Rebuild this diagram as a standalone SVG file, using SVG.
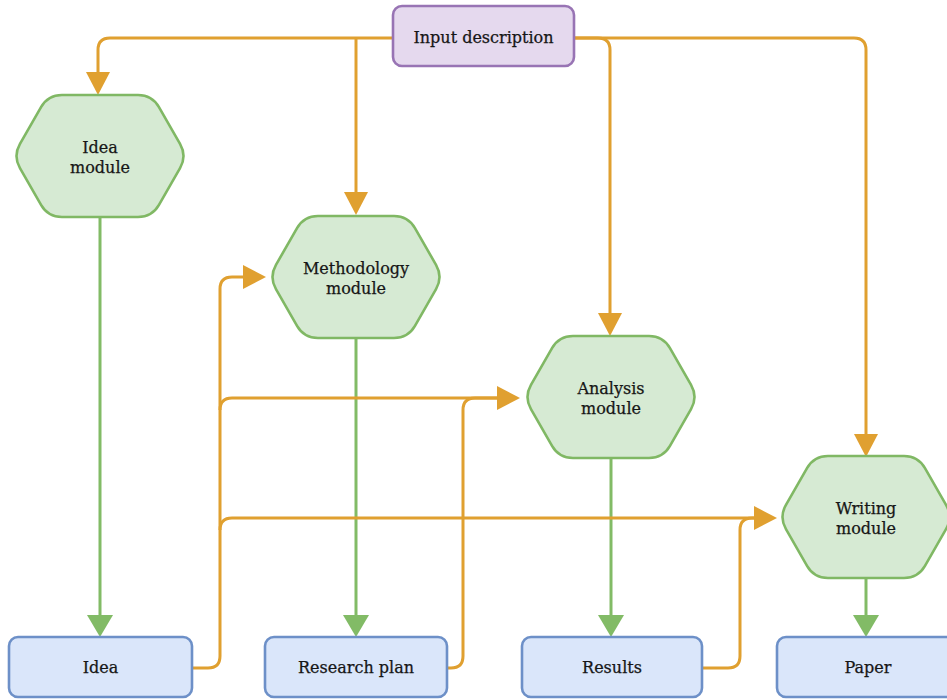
<svg xmlns="http://www.w3.org/2000/svg" width="947" height="700" viewBox="0 0 947 700">
  <style>
    .lbl { font-family: "DejaVu Serif", "Liberation Serif", serif; font-size: 16px; fill: #161616; stroke: #161616; stroke-width: 0.25; text-anchor: middle; }
    .hex { fill: #d6ead3; stroke: #80b864; stroke-width: 2.6; }
    .out { fill: #dae6fa; stroke: #6d90c8; stroke-width: 2.6; }
    .inp { fill: #e5d9ee; stroke: #9874b4; stroke-width: 2.6; }
    .ctx { fill: none; stroke: #e0a030; stroke-width: 3; }
    .flow { fill: none; stroke: #82bb66; stroke-width: 3; }
  </style>
  <defs>
    <!-- rounded hexagon, centred on the origin -->
    <path id="hexagon" d="M -38,-61 L 38,-61 Q 52,-61 58.97,-48.85 L 80.03,-12.15 Q 87,0 80.03,12.15 L 58.97,48.85 Q 52,61 38,61 L -38,61 Q -52,61 -58.97,48.85 L -80.03,12.15 Q -87,0 -80.03,-12.15 L -58.97,-48.85 Q -52,-61 -38,-61 Z"/>
    <marker id="ah-ctx" markerWidth="23" markerHeight="24" refX="0" refY="12" orient="auto" markerUnits="userSpaceOnUse">
      <path d="M0,0 L23,12 L0,24 Z" fill="#e0a030"/>
    </marker>
    <marker id="ah-flow" markerWidth="22" markerHeight="26" refX="0" refY="13" orient="auto" markerUnits="userSpaceOnUse">
      <path d="M0,0 L22,13 L0,26 Z" fill="#82bb66"/>
    </marker>
  </defs>
  <rect width="947" height="700" fill="#ffffff"/>

  <g id="connectors">
    <!-- input description feeds every module -->
    <path class="ctx" d="M393,38 H110 Q98,38 98,50 V72" marker-end="url(#ah-ctx)"/>
    <path class="ctx" d="M356,38 V192" marker-end="url(#ah-ctx)"/>
    <path class="ctx" d="M574,38 H598 Q610,38 610,50 V313" marker-end="url(#ah-ctx)"/>
    <path class="ctx" d="M574,38 H854 Q866,38 866,50 V434" marker-end="url(#ah-ctx)"/>

    <!-- module outputs -->
    <path class="flow" d="M100,217 V615" marker-end="url(#ah-flow)"/>
    <path class="flow" d="M356,338 V615" marker-end="url(#ah-flow)"/>
    <path class="flow" d="M611,458 V615" marker-end="url(#ah-flow)"/>
    <path class="flow" d="M866,578 V615" marker-end="url(#ah-flow)"/>

    <!-- idea passed on to later modules -->
    <path class="ctx" d="M192,668 H208 Q220,668 220,656 V289 Q220,277 232,277 H243" marker-end="url(#ah-ctx)"/>
    <path class="ctx" d="M220,410 Q220,398 232,398 H497" marker-end="url(#ah-ctx)"/>
    <path class="ctx" d="M220,530 Q220,518 232,518 H754" marker-end="url(#ah-ctx)"/>
    <!-- research plan into analysis -->
    <path class="ctx" d="M447,668 H451 Q463,668 463,656 V410 Q463,398 475,398 H497"/>
    <!-- results into writing -->
    <path class="ctx" d="M702,668 H728 Q740,668 740,656 V530 Q740,518 752,518 H754"/>
  </g>

  <g id="input-description">
    <rect class="inp" x="393" y="6" width="181" height="60" rx="9"/>
    <text class="lbl" x="483.5" y="43">Input description</text>
  </g>

  <g id="idea-module">
    <use href="#hexagon" class="hex" transform="translate(100,156)"/>
    <text class="lbl" x="100" y="153">Idea</text>
    <text class="lbl" x="100" y="173">module</text>
  </g>

  <g id="methodology-module">
    <use href="#hexagon" class="hex" transform="translate(356,277)"/>
    <text class="lbl" x="356" y="274">Methodology</text>
    <text class="lbl" x="356" y="294">module</text>
  </g>

  <g id="analysis-module">
    <use href="#hexagon" class="hex" transform="translate(611,397)"/>
    <text class="lbl" x="611" y="394">Analysis</text>
    <text class="lbl" x="611" y="414">module</text>
  </g>

  <g id="writing-module">
    <use href="#hexagon" class="hex" transform="translate(866,517)"/>
    <text class="lbl" x="866" y="514">Writing</text>
    <text class="lbl" x="866" y="534">module</text>
  </g>

  <g id="idea">
    <rect class="out" x="9" y="637" width="183" height="60" rx="9"/>
    <text class="lbl" x="100.5" y="673">Idea</text>
  </g>

  <g id="research-plan">
    <rect class="out" x="265" y="637" width="182" height="60" rx="9"/>
    <text class="lbl" x="356" y="673">Research plan</text>
  </g>

  <g id="results">
    <rect class="out" x="522" y="637" width="180" height="60" rx="9"/>
    <text class="lbl" x="612" y="673">Results</text>
  </g>

  <g id="paper">
    <rect class="out" x="777" y="637" width="183" height="60" rx="9"/>
    <text class="lbl" x="868" y="673">Paper</text>
  </g>
</svg>
